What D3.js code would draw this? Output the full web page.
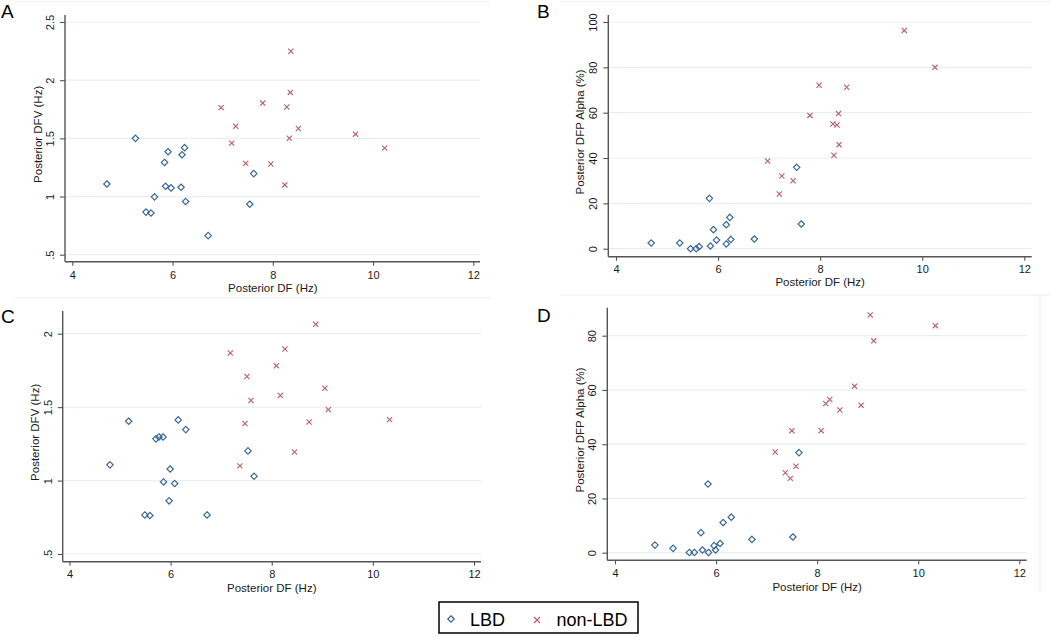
<!DOCTYPE html>
<html>
<head>
<meta charset="utf-8">
<script src="https://cdn.jsdelivr.net/npm/d3@7"></script>
<style>
  html, body { margin: 0; padding: 0; background: #fff; }
  svg { display: block; font-family: "Liberation Sans", Arial, sans-serif; }
</style>
</head>
<body>
<svg id="chart" width="1050" height="637"></svg>
<script>
// ---------- data ----------
const xTicks = [4, 6, 8, 10, 12];
const dfvTicksA = [0.5, 1, 1.5, 2, 2.5];
const dfvTicksC = [0.5, 1, 1.5, 2];
const alphaTicksB = [0, 20, 40, 60, 80, 100];
const alphaTicksD = [0, 20, 40, 60, 80];
const seriesNames = ["LBD", "non-LBD"];
const xTitle = "Posterior DF (Hz)";
const yTitleDFV = "Posterior DFV (Hz)";
const yTitleAlpha = "Posterior DFP Alpha (%)";

// Panel A: DF vs DFV
const aLbdDF  = [4.69, 5.26, 5.47, 5.57, 5.64, 5.84, 5.86, 5.91, 5.97, 6.17, 6.19, 6.24, 6.26, 6.71, 7.54, 7.62];
const aLbdDFV = [1.108, 1.50, 0.866, 0.858, 0.997, 1.293, 1.088, 1.385, 1.074, 1.08, 1.359, 1.42, 0.957, 0.664, 0.934, 1.197];
const aNonDF  = [6.97, 7.18, 7.26, 7.46, 7.80, 7.96, 8.24, 8.28, 8.33, 8.35, 8.36, 8.51, 9.65, 10.23];
const aNonDFV = [1.764, 1.459, 1.604, 1.285, 1.803, 1.279, 1.10, 1.769, 1.501, 1.895, 2.248, 1.584, 1.536, 1.416];

// Panel B: DF vs DFP Alpha
const bLbdDF    = [4.69, 5.25, 5.46, 5.57, 5.63, 5.83, 5.85, 5.91, 5.97, 6.16, 6.16, 6.23, 6.25, 6.71, 7.54, 7.63];
const bLbdAlpha = [2.5, 2.5, 0, 0, 0.9, 22.2, 1.2, 8.4, 3.8, 10.6, 2.1, 13.8, 4.1, 4.3, 35.9, 10.9];
const bNonDF    = [6.97, 7.20, 7.25, 7.47, 7.80, 7.98, 8.25, 8.27, 8.33, 8.36, 8.37, 8.52, 9.65, 10.25];
const bNonAlpha = [38.7, 24.1, 32.1, 30.0, 58.8, 72.1, 55.0, 41.2, 54.6, 59.6, 45.9, 71.2, 96.3, 80.0];

// Panel C: DF vs DFV
const cLbdDF  = [4.80, 5.17, 5.49, 5.59, 5.71, 5.77, 5.85, 5.86, 5.97, 5.99, 6.08, 6.15, 6.30, 6.72, 7.53, 7.65];
const cLbdDFV = [1.107, 1.404, 0.766, 0.762, 1.284, 1.297, 1.297, 0.991, 0.862, 1.079, 0.980, 1.413, 1.347, 0.766, 1.202, 1.029];
const cNonDF  = [7.18, 7.37, 7.47, 7.51, 7.59, 8.09, 8.17, 8.26, 8.45, 8.74, 8.87, 9.05, 9.12, 10.33];
const cNonDFV = [1.869, 1.10, 1.388, 1.708, 1.545, 1.781, 1.579, 1.896, 1.195, 1.399, 2.064, 1.629, 1.483, 1.415];

// Panel D: DF vs DFP Alpha
const dLbdDF    = [4.79, 5.15, 5.47, 5.57, 5.70, 5.73, 5.84, 5.85, 5.96, 5.99, 6.08, 6.14, 6.30, 6.71, 7.52, 7.64];
const dLbdAlpha = [2.8, 1.6, 0.1, 0.1, 7.4, 1.0, 25.3, 0.1, 2.6, 1.0, 3.4, 11.1, 13.1, 4.9, 5.8, 36.9];
const dNonDF    = [7.17, 7.37, 7.47, 7.50, 7.58, 8.08, 8.17, 8.25, 8.45, 8.74, 8.87, 9.05, 9.12, 10.34];
const dNonAlpha = [37.1, 29.5, 27.4, 45.0, 31.9, 45.0, 55.0, 56.5, 52.6, 61.4, 54.4, 87.6, 78.1, 83.7];

// ---------- styling / layout ----------
const LBD_COLOR = "#3a6896";
const NON_COLOR = "#b85e67";
const AXIS_COLOR = "#555";
const GRID_COLOR = "#e8f0f2";
const TEXT_COLOR = "#1a1a1a";

const svg = d3.select("#chart");

const panels = [
  { letter: "A", lx: 1, ly: 18,
    xr: [72.3, 473.3], yd: [0.5, 2.5], yr: [254.7, 22], yTicks: dfvTicksA,
    axisX: 65, axisY: 261.7, axisTop: 15, axisRight: 480,
    xLabY: 13.5, xTitleY: 288, yTitleX: 37.7, yTitle: yTitleDFV,
    lbd: [aLbdDF, aLbdDFV], non: [aNonDF, aNonDFV],
    frame: [[17, 1.5], [490, 1.5]] },
  { letter: "B", lx: 537, ly: 18,
    xr: [616, 1024.3], yd: [0, 100], yr: [248.7, 22], yTicks: alphaTicksB,
    axisX: 608.3, axisY: 256.7, axisTop: 15, axisRight: 1031.7,
    xLabY: 12, xTitleY: 281.5, yTitleX: 580, yTitle: yTitleAlpha,
    lbd: [bLbdDF, bLbdAlpha], non: [bNonDF, bNonAlpha],
    frame: [[560, 1.5], [1050, 1.5]] },
  { letter: "C", lx: 1, ly: 323,
    xr: [69.5, 474], yd: [0.5, 2], yr: [554, 333.7], yTicks: dfvTicksC,
    axisX: 62.7, axisY: 561.7, axisTop: 311, axisRight: 481,
    xLabY: 12.8, xTitleY: 588, yTitleX: 35, yTitle: yTitleDFV,
    lbd: [cLbdDF, cLbdDFV], non: [cNonDF, cNonDFV],
    frame: [[15, 298], [491, 298]] },
  { letter: "D", lx: 537, ly: 322,
    xr: [615, 1019.3], yd: [0, 80], yr: [552.7, 335.7], yTicks: alphaTicksD,
    axisX: 607.3, axisY: 560.3, axisTop: 307.7, axisRight: 1026.7,
    xLabY: 13, xTitleY: 587, yTitleX: 580, yTitle: yTitleAlpha,
    lbd: [dLbdDF, dLbdAlpha], non: [dNonDF, dNonAlpha],
    frame: [[560, 295], [1050, 295]] }
];

const fmtY = v => (v === 0.5 ? ".5" : String(v));
const diamondPath = "M0,-3.2L3.2,0L0,3.2L-3.2,0Z";

panels.forEach(p => {
  const x = d3.scaleLinear().domain([xTicks[0], xTicks[xTicks.length - 1]]).range(p.xr);
  const y = d3.scaleLinear().domain(p.yd).range(p.yr);
  const g = svg.append("g");

  // faint frame line
  g.append("line")
    .attr("x1", p.frame[0][0]).attr("y1", p.frame[0][1])
    .attr("x2", p.frame[1][0]).attr("y2", p.frame[1][1])
    .attr("stroke", "#eef1f2").attr("stroke-width", 1.2);

  // grid
  g.append("g").selectAll("line").data(p.yTicks).join("line")
    .attr("x1", p.axisX).attr("x2", p.axisRight)
    .attr("y1", d => y(d)).attr("y2", d => y(d))
    .attr("stroke", GRID_COLOR).attr("stroke-width", 1.2);

  // x axis
  const xa = g.append("g").attr("transform", `translate(0,${p.axisY})`)
    .call(d3.axisBottom(x).tickValues(xTicks).tickSize(4).tickFormat(d3.format("d")));
  xa.select(".domain").remove();
  xa.selectAll(".tick line").attr("stroke", AXIS_COLOR).attr("stroke-width", 1.1);
  xa.selectAll(".tick text").attr("y", p.xLabY).attr("dy", "0.35em")
    .attr("fill", TEXT_COLOR).style("font-size", "11px")
    .style("font-family", '"Liberation Sans", Arial, sans-serif');

  // y axis
  const ya = g.append("g").attr("transform", `translate(${p.axisX},0)`)
    .call(d3.axisLeft(y).tickValues(p.yTicks).tickSize(5).tickFormat(fmtY));
  ya.select(".domain").remove();
  ya.selectAll(".tick line").attr("stroke", AXIS_COLOR).attr("stroke-width", 1.1);
  ya.selectAll(".tick text")
    .attr("x", null).attr("dy", "0.35em")
    .attr("text-anchor", "middle")
    .attr("transform", "translate(-15,0) rotate(-90)")
    .attr("fill", TEXT_COLOR).style("font-size", "11px")
    .style("font-family", '"Liberation Sans", Arial, sans-serif');

  // axis lines
  g.append("line").attr("x1", p.axisX).attr("x2", p.axisX)
    .attr("y1", p.axisTop).attr("y2", p.axisY)
    .attr("stroke", AXIS_COLOR).attr("stroke-width", 1.4);
  g.append("line").attr("x1", p.axisX).attr("x2", p.axisRight)
    .attr("y1", p.axisY).attr("y2", p.axisY)
    .attr("stroke", AXIS_COLOR).attr("stroke-width", 1.4);

  // titles
  g.append("text").attr("x", (p.xr[0] + p.xr[1]) / 2).attr("y", p.xTitleY)
    .attr("dy", "0.35em").attr("text-anchor", "middle")
    .attr("fill", TEXT_COLOR).style("font-size", "11.5px").text(xTitle);
  const ymid = (p.axisTop + p.axisY) / 2 - 4;
  g.append("text")
    .attr("transform", `translate(${p.yTitleX},${ymid}) rotate(-90)`)
    .attr("dy", "0.35em").attr("text-anchor", "middle")
    .attr("fill", TEXT_COLOR).style("font-size", "11.5px").text(p.yTitle);

  // panel letter
  g.append("text").attr("x", p.lx).attr("y", p.ly)
    .attr("fill", "#000").style("font-size", "19px").text(p.letter);

  // LBD diamonds
  const lbd = p.lbd[0].map((v, i) => [v, p.lbd[1][i]]);
  g.append("g").selectAll("path").data(lbd).join("path")
    .attr("transform", d => `translate(${x(d[0])},${y(d[1])})`)
    .attr("d", diamondPath)
    .attr("fill", "none").attr("stroke", LBD_COLOR).attr("stroke-width", 1.2);

  // non-LBD crosses
  const non = p.non[0].map((v, i) => [v, p.non[1][i]]);
  g.append("g").selectAll("path").data(non).join("path")
    .attr("transform", d => `translate(${x(d[0])},${y(d[1])})`)
    .attr("d", "M-2.6,-2.6L2.6,2.6M-2.6,2.6L2.6,-2.6")
    .attr("fill", "none").attr("stroke", NON_COLOR).attr("stroke-width", 1.1);
});

// faint right frame line of D
svg.append("line").attr("x1", 1040).attr("x2", 1040).attr("y1", 295).attr("y2", 593)
  .attr("stroke", "#eef1f2").attr("stroke-width", 1.2);

// legend
const lg = svg.append("g");
lg.append("rect").attr("x", 439).attr("y", 602).attr("width", 199).attr("height", 31)
  .attr("fill", "#fff").attr("stroke", "#000").attr("stroke-width", 1.5);
lg.append("path").attr("transform", "translate(451,619)").attr("d", diamondPath)
  .attr("fill", "none").attr("stroke", LBD_COLOR).attr("stroke-width", 1.3);
lg.append("text").attr("x", 470).attr("y", 625.5).attr("fill", "#000")
  .style("font-size", "18px").text(seriesNames[0]);
lg.append("path").attr("transform", "translate(537,620)")
  .attr("d", "M-3,-3L3,3M-3,3L3,-3")
  .attr("fill", "none").attr("stroke", NON_COLOR).attr("stroke-width", 1.2);
lg.append("text").attr("x", 556.5).attr("y", 625.5).attr("fill", "#000")
  .style("font-size", "18px").text(seriesNames[1]);
</script>
</body>
</html>
